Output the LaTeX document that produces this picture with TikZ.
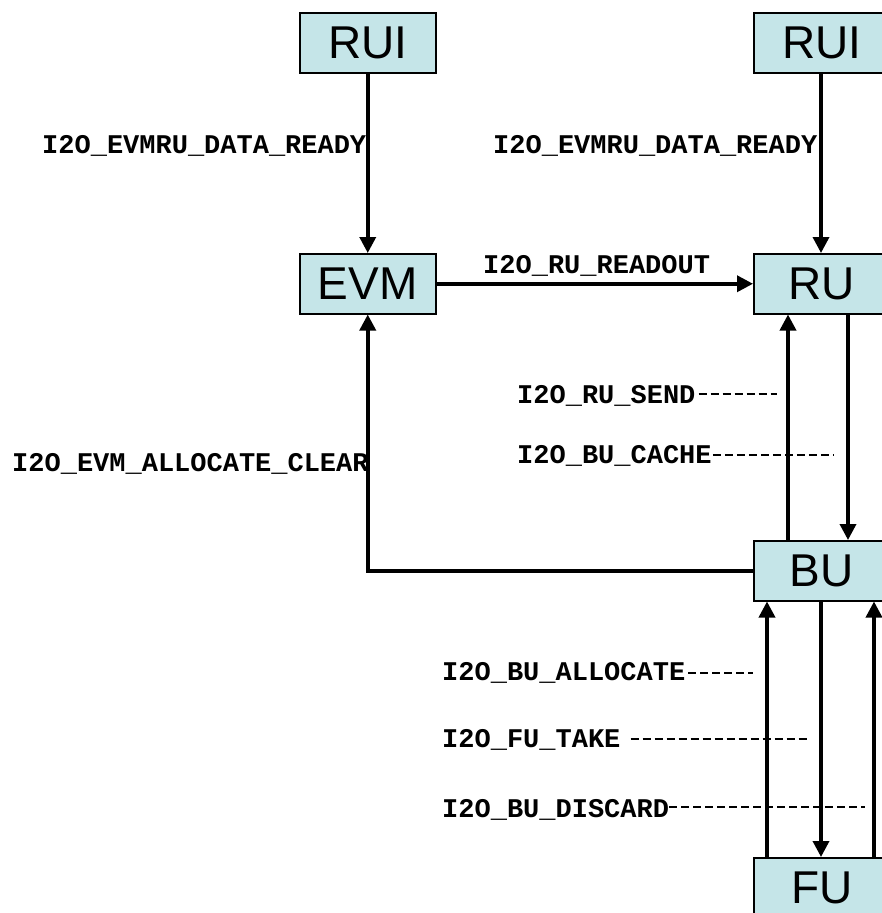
\documentclass[tikz,border=0pt]{standalone}
\usepackage{fontspec}
\setmainfont{Liberation Sans}
\newfontfamily\cour{Liberation Mono}
\usetikzlibrary{arrows.meta}
\definecolor{boxfill}{RGB}{197,229,232}
\tikzset{
  blk/.style={draw=black, line width=1.5pt, fill=boxfill, minimum width=136pt, minimum height=60pt, inner sep=0pt, anchor=north west, font=\fontsize{46}{50}\selectfont},
  lbl/.style={inner sep=0pt, anchor=base west, font=\cour\bfseries\fontsize{27}{30}\selectfont},
  arr/.style={line width=3.5pt, -{Triangle[length=16pt,width=16pt]}},
  dl/.style={line width=2.5pt, dash pattern=on 8pt off 4pt}
}
\begin{document}
\begin{tikzpicture}[x=1pt,y=-1pt]
\clip (0,0) rectangle (882,913);
\fill[white] (0,0) rectangle (882,913);
% boxes
\node[blk] (rui1) at (299,12) {RUI};
\node[blk] (rui2) at (753,12) {RUI};
\node[blk] (evm) at (299,253) {EVM};
\node[blk] (ru) at (753,253) {RU};
\node[blk] (bu) at (753,540) {BU};
\node[blk] (fu) at (753,857) {FU};
% labels
\node[lbl] (l1) at (42,153) {I2O\_EVMRU\_DATA\_READY};
\node[lbl] (l2) at (493,153) {I2O\_EVMRU\_DATA\_READY};
\node[lbl] (l3) at (483,273) {I2O\_RU\_READOUT};
\node[lbl] (l4) at (517,403) {I2O\_RU\_SEND};
\node[lbl] (l5) at (517,463) {I2O\_BU\_CACHE};
\node[lbl] (l6) at (12,471) {I2O\_EVM\_ALLOCATE\_CLEAR};
\node[lbl] (l7) at (442,680) {I2O\_BU\_ALLOCATE};
\node[lbl] (l8) at (442,747) {I2O\_FU\_TAKE};
\node[lbl] (l9) at (442,817) {I2O\_BU\_DISCARD};
% dashed leaders
\coordinate (d4) at (777,394);
\coordinate (d5) at (834,455);
\coordinate (d7) at (753,673);
\coordinate (d8) at (807,739);
\coordinate (d9) at (865,807);
\draw[dl] ([xshift=3pt]l4.east |- d4) -- (d4);
\draw[dl] ([xshift=1pt]l5.east |- d5) -- (d5);
\draw[dl] ([xshift=3pt]l7.east |- d7) -- (d7);
\draw[dl] ([xshift=10pt]l8.east |- d8) -- (d8);
\draw[dl] ([xshift=0pt]l9.east |- d9) -- (d9);
% connectors
\draw[arr] (rui1.south) -- (evm.north);
\draw[arr] ([xshift=68pt]rui2.south west) -- ([xshift=68pt]ru.north west);
\draw[arr] (evm.east) -- (ru.west);
\draw[arr] ([xshift=95pt]ru.south west) -- ([xshift=95pt]bu.north west);
\draw[arr] ([xshift=35pt]bu.north west) -- ([xshift=35pt]ru.south west);
\draw[arr] (bu.west) -| (evm.south);
\draw[arr] ([xshift=68pt]bu.south west) -- ([xshift=68pt]fu.north west);
\draw[arr] ([xshift=14pt]fu.north west) -- ([xshift=14pt]bu.south west);
\draw[arr] ([xshift=121pt]fu.north west) -- ([xshift=121pt]bu.south west);
\end{tikzpicture}
\end{document}
